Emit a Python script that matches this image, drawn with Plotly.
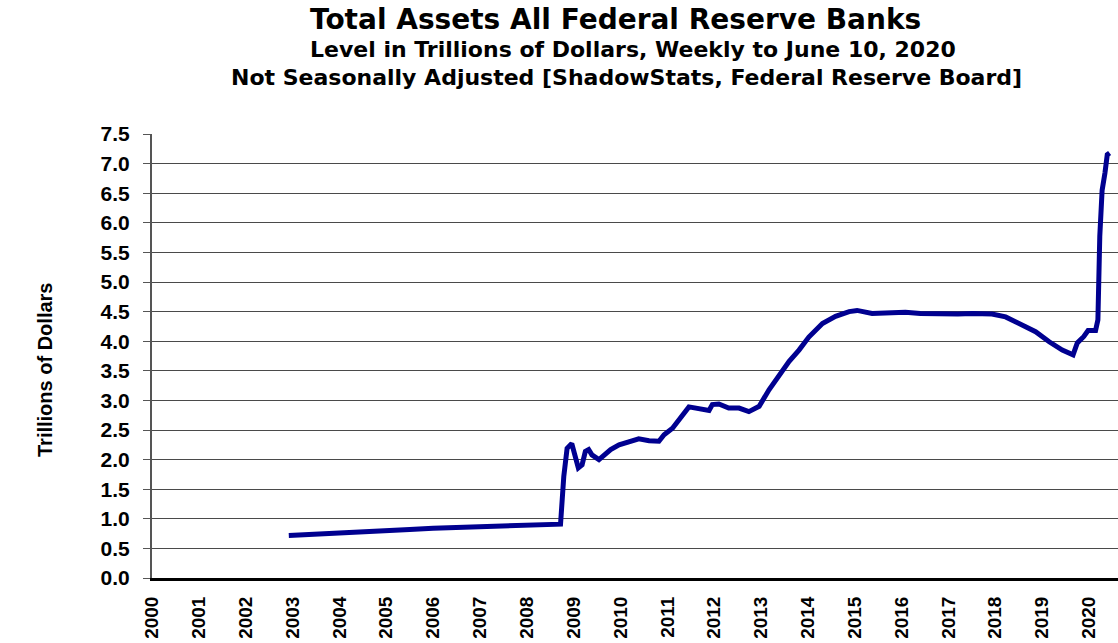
import plotly.graph_objects as go

# Decimal-year dates (weekly data summarized) and total assets, trillions of dollars
dates = [2002.92, 2003.25, 2003.5, 2004.0, 2004.5, 2005.0, 2005.5, 2006.0, 2006.5, 2007.0,
         2007.5, 2008.0, 2008.6, 2008.72, 2008.79, 2008.86, 2008.96, 2009.0, 2009.1, 2009.18,
         2009.25, 2009.32, 2009.39, 2009.54, 2009.65, 2009.79, 2009.97, 2010.18, 2010.39, 2010.61,
         2010.82, 2010.93, 2011.11, 2011.46, 2011.74, 2011.89, 2011.96, 2012.10, 2012.31, 2012.53,
         2012.74, 2012.96, 2013.17, 2013.38, 2013.60, 2013.81, 2014.02, 2014.31, 2014.59, 2014.88,
         2015.05, 2015.37, 2015.7, 2016.08, 2016.4, 2016.80, 2017.2, 2017.51, 2017.93, 2018.22,
         2018.57, 2018.86, 2019.15, 2019.43, 2019.66, 2019.75, 2019.89, 2019.98, 2020.14, 2020.19,
         2020.23, 2020.28, 2020.34, 2020.39, 2020.44]
assets = [0.72, 0.73, 0.74, 0.76, 0.78, 0.80, 0.82, 0.84, 0.85, 0.86,
          0.87, 0.89, 0.90, 0.91, 1.72, 2.19, 2.27, 2.14, 1.86, 1.91,
          2.14, 2.17, 2.08, 2.00, 2.08, 2.17, 2.25, 2.31, 2.35, 2.32,
          2.31, 2.42, 2.53, 2.89, 2.86, 2.83, 2.93, 2.94, 2.87, 2.87,
          2.81, 2.90, 3.18, 3.43, 3.66, 3.85, 4.07, 4.30, 4.42, 4.50,
          4.52, 4.47, 4.48, 4.49, 4.47, 4.46, 4.46, 4.47, 4.46, 4.41,
          4.28, 4.16, 3.99, 3.85, 3.77, 3.97, 4.08, 4.18, 4.18, 4.36,
          5.77, 6.55, 6.84, 7.15, 7.18]

year_ticks = list(range(2000, 2021))
year_labels = [str(y) for y in year_ticks]
y_ticks = [i * 0.5 for i in range(16)]

title_lines = ["Total Assets All Federal Reserve Banks",
               "Level in Trillions of Dollars, Weekly to June 10, 2020",
               "Not Seasonally Adjusted [ShadowStats, Federal Reserve Board]"]
y_title = "Trillions of Dollars"

FONT = "Liberation Sans, Arial, sans-serif"
TFONT = "DejaVu Sans, Liberation Sans, sans-serif"

fig = go.Figure()
fig.add_trace(go.Scatter(x=dates, y=assets, mode="lines",
                         line=dict(color="#000090", width=5), hoverinfo="skip"))

W, H = 1118, 643
L, R, T, B = 152, 0, 134, 65
PW, PH = W - L - R, H - T - B

fig.update_layout(
    width=W, height=H,
    margin=dict(l=L, r=R, t=T, b=B),
    paper_bgcolor="white", plot_bgcolor="white",
    showlegend=False,
    font=dict(family=FONT, color="black"),
)
fig.update_xaxes(
    range=[2000, 2000 + PW / 46.85],
    tickmode="array", tickvals=year_ticks, ticktext=year_labels,
    tickangle=-90, tickfont=dict(size=19, family=FONT, color="black", weight="bold"),
    showgrid=False, zeroline=False,
    showline=True, linecolor="black", linewidth=3,
    ticks="", ticklabelstandoff=8,
)
fig.update_yaxes(
    range=[0, 7.5],
    tickmode="array", tickvals=y_ticks, ticktext=[f"{v:.1f}" for v in y_ticks],
    tickfont=dict(size=21, family=FONT, color="black", weight="bold"),
    showgrid=True, gridcolor="#4a4a4a", gridwidth=1,
    zeroline=False,
    showline=True, linecolor="#555555", linewidth=2,
    ticks="outside", ticklen=7, tickcolor="#555555", tickwidth=1,
    ticklabelstandoff=9,
)


def px_to_paper(px, py):
    return (px - L) / PW, (H - B - py) / PH


ys = [20, 49, 78]
sizes = [28, 22, 22]
xs = [615, 633, 626]
for txt, xx, yy, sz in zip(title_lines, xs, ys, sizes):
    ax, ay = px_to_paper(xx, yy)
    fig.add_annotation(text=f"<b>{txt}</b>", xref="paper", yref="paper",
                       x=ax, y=ay, xanchor="center", yanchor="middle", showarrow=False,
                       font=dict(size=sz, family=TFONT, color="black"))

ax, ay = px_to_paper(45, 370)
fig.add_annotation(text=f"<b>{y_title}</b>", xref="paper", yref="paper",
                   x=ax, y=ay, xanchor="center", yanchor="middle", showarrow=False,
                   textangle=-90, font=dict(size=20, family=FONT, color="black"))

fig.write_html("out.html", config={"displayModeBar": False},
               post_script="document.body.style.margin='0';document.body.style.overflow='hidden';")
